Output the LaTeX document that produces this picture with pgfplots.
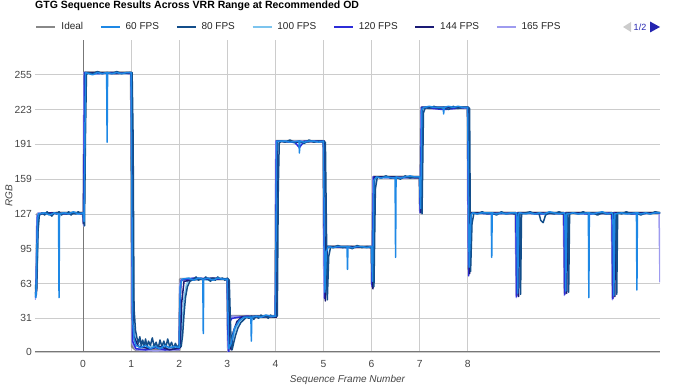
\documentclass[border=0pt]{standalone}
\usepackage{pgfplots}
\pgfplotsset{compat=1.18}
\usepackage{fontspec}
\setmainfont{Liberation Sans}
\definecolor{cIdeal}{HTML}{888888}
\definecolor{c60}{HTML}{1E88E5}
\definecolor{c80}{HTML}{134E8A}
\definecolor{c100}{HTML}{7CC4EE}
\definecolor{c120}{HTML}{2C2CD8}
\definecolor{c144}{HTML}{1A1A75}
\definecolor{c165}{HTML}{9E9BEF}
\definecolor{gridc}{HTML}{CCCCCC}
\definecolor{basec}{HTML}{777777}
\definecolor{tickc}{HTML}{444444}
\definecolor{navblue}{HTML}{2424B0}
\begin{document}
\begin{tikzpicture}
\path[use as bounding box] (-35pt,-38pt) rectangle (640pt,352pt);
\begin{axis}[
  scale only axis, width=625pt, height=312pt,
  xmin=-1, xmax=12, ymin=0, ymax=287,
  axis line style={draw=none}, tick style={draw=none},
  xtick={0,1,2,3,4,5,6,7,8},
  ytick={0,31,63,95,127,159,191,223,255},
  grid=major, major grid style={color=gridc, line width=0.8pt},
  /pgf/number format/assume math mode=true,
  ticklabel style={font=\fontsize{10.3}{12}\selectfont, text=tickc},
  xticklabel style={anchor=center, yshift=-12pt},
  yticklabel style={anchor=east, inner sep=0pt, xshift=-3pt},
  xlabel={Sequence Frame Number},
  xlabel style={font=\fontsize{10}{12}\selectfont\itshape, text=tickc, at={(axis description cs:0.5,-0.0897)}, anchor=center},
  ylabel={RGB},
  ylabel style={font=\fontsize{10}{12}\selectfont\itshape, text=tickc, at={(axis description cs:-0.0416,0.5)}, anchor=center},
  title={GTG Sequence Results Across VRR Range at Recommended OD},
  title style={font=\fontsize{10.5}{12}\selectfont\bfseries, at={(axis description cs:0,1.0897)}, anchor=west, inner sep=0pt},
  legend style={at={(axis description cs:0,1.0417)}, anchor=west, draw=none, fill=none,
    font=\fontsize{10}{12}\selectfont, text=black!85, inner sep=0pt, outer sep=0pt,
    nodes={inner sep=0pt},
    /tikz/every odd column/.append style={column sep=5pt},
    /tikz/every even column/.append style={column sep=17pt}},
  legend columns=-1, legend cell align=left,
  legend image code/.code={\draw[#1] (0pt,0pt) -- (19pt,0pt);},
  every axis plot/.append style={line width=1.5pt, line join=round},
]
\draw[color=basec, line width=1pt] (axis cs:-1,0) -- (axis cs:12,0);
\draw[color=basec, line width=1pt] (axis cs:0,0) -- (axis cs:0,287);

\addlegendimage{color=cIdeal, line width=2.5pt}
\addlegendentry{Ideal}
\addlegendimage{color=c60, line width=1.5pt}
\addlegendentry{60 FPS}
\addlegendimage{color=c80, line width=1.5pt}
\addlegendentry{80 FPS}
\addlegendimage{color=c100, line width=1.5pt}
\addlegendentry{100 FPS}
\addlegendimage{color=c120, line width=1.5pt}
\addlegendentry{120 FPS}
\addlegendimage{color=c144, line width=1.5pt}
\addlegendentry{144 FPS}
\addlegendimage{color=c165, line width=1.5pt}
\addlegendentry{165 FPS}

\addplot[forget plot, color=cIdeal, line width=2.5pt] coordinates {
(-1,52) (-0.97,60) (-0.95,127) (-0.5,128) (0,128) (0.01,118) (0.03,257) (1,257) (1.02,5) (1.1,2) (2,1) (2.02,67) (3,67) (3.02,2) (3.06,33) (4,33) (4.02,194) (5,194) (5.02,50) (5.06,97) (6,97) (6.01,62) (6.04,161) (7,161) (7.01,130) (7.04,225) (8,225) (8.02,76) (8.06,128) (9,128) (9.02,52) (9.04,128) (10,128) (10.02,54) (10.04,128) (11,128) (11.02,50) (11.04,128) (12,128)
};

\addplot[forget plot, color=c165] coordinates {
(-1,48) (-0.98,55) (-0.96,125) (-0.93,128) (-0.6,127) (-0.3,128) (0.0,127) (0.01,116) (0.02,257) (0.5,256) (1.0,257) (1.01,150) (1.02,8) (1.1,2) (1.5,1) (2.0,2) (2.01,60) (2.03,67) (2.5,68) (3.0,67) (3.01,5) (3.02,0) (3.04,30) (3.1,33) (3.5,32) (4.0,33) (4.01,194) (4.5,194) (5.0,193) (5.01,50) (5.04,97) (5.5,97) (6.0,97) (6.01,61) (6.03,161) (6.5,161) (7.0,160) (7.01,130) (7.03,225) (7.5,225) (8.0,224) (8.01,80) (8.04,128) (8.5,128) (9.0,127) (9.01,50) (9.03,128) (9.5,128) (10.0,127) (10.01,52) (10.03,128) (10.5,128) (11.0,127) (11.01,48) (11.03,128) (11.5,128) (11.98,128) (12.0,64)
};

\addplot[forget plot, color=c100] coordinates {
(-1,58) (-0.96,60) (-0.93,120) (-0.9,127) (-0.7,128) (-0.5,127) (-0.3,128) (-0.1,127) (0.0,128) (0.02,120) (0.05,257) (0.3,256) (0.6,257) (0.9,256) (1.0,257) (1.02,240) (1.05,25) (1.1,8) (1.3,4) (1.5,6) (1.7,3) (1.9,5) (2.03,4) (2.06,25) (2.1,50) (2.15,62) (2.2,67) (2.4,68) (2.6,66) (2.8,68) (3.02,67) (3.05,20) (3.08,3) (3.12,12) (3.18,22) (3.25,28) (3.35,32) (3.6,33) (3.8,32) (4.02,33) (4.05,194) (4.3,194) (4.5,190) (4.7,194) (5.02,194) (5.05,52) (5.09,97) (5.5,96) (6.02,97) (6.04,62) (6.07,161) (6.5,160) (7.02,161) (7.04,129) (7.07,225) (7.5,224) (8.02,225) (8.05,77) (8.08,128) (8.5,127) (9.03,128) (9.05,55) (9.07,128) (9.5,127) (10.03,128) (10.05,57) (10.07,128) (10.5,127) (11.03,128) (11.05,55) (11.07,128) (11.5,127) (12.0,128)
};

\addplot[forget plot, color=c120] coordinates {
(-1,50) (-0.98,52) (-0.95,124) (-0.92,127) (-0.7,128) (-0.4,127) (-0.2,128) (0.0,127) (0.01,118) (0.03,257) (0.3,256) (0.6,257) (1.0,256) (1.01,200) (1.03,10) (1.1,3) (1.3,2) (1.5,4) (1.7,2) (2.0,3) (2.01,40) (2.04,66) (2.3,68) (2.6,67) (3.0,67) (3.01,20) (3.03,0) (3.05,28) (3.1,31) (3.4,33) (3.7,32) (4.0,33) (4.02,194) (4.4,193) (4.5,188) (4.6,194) (5.0,194) (5.01,120) (5.03,49) (5.06,97) (5.5,96) (6.0,97) (6.01,60) (6.04,161) (6.5,160) (7.0,161) (7.01,128) (7.04,225) (7.5,223) (8.0,225) (8.02,70) (8.05,128) (8.5,127) (9.0,128) (9.02,51) (9.04,128) (9.5,127) (10.0,128) (10.02,53) (10.04,128) (10.5,127) (11.0,128) (11.02,49) (11.04,128) (11.5,127) (12.0,128)
};

\addplot[forget plot, color=c144] coordinates {
(-1,55) (-0.97,53) (-0.94,122) (-0.91,127) (-0.6,128) (-0.3,127) (0.0,128) (0.02,118) (0.05,257) (0.3,257) (0.7,256) (1.0,257) (1.02,220) (1.05,15) (1.15,5) (1.4,3) (1.6,5) (1.8,2) (2.02,4) (2.05,45) (2.1,65) (2.4,67) (2.7,68) (3.02,67) (3.05,8) (3.08,2) (3.12,18) (3.2,28) (3.3,32) (3.6,33) (4.02,32) (4.04,194) (4.5,193) (5.02,194) (5.04,47) (5.08,97) (5.5,97) (6.02,96) (6.03,58) (6.06,161) (6.5,161) (7.02,160) (7.03,128) (7.06,225) (7.5,225) (8.02,225) (8.04,72) (8.07,128) (8.5,128) (9.04,127) (9.06,51) (9.08,128) (9.5,128) (10.04,127) (10.06,54) (10.08,128) (10.5,128) (11.04,127) (11.06,51) (11.08,128) (11.5,128) (12.0,128)
};

\addplot[forget plot, color=c80] coordinates {
(-1,62) (-0.97,56) (-0.94,110) (-0.91,126) (-0.85,128) (-0.8,126) (-0.75,129) (-0.7,127) (-0.65,125) (-0.6,128) (-0.55,127) (-0.5,129) (-0.45,126) (-0.4,128) (-0.35,127) (-0.3,129) (-0.25,126) (-0.2,128) (-0.15,127) (-0.1,129) (-0.05,127) (0.0,128) (0.03,116) (0.05,200) (0.07,255) (0.1,257) (0.2,256) (0.3,258) (0.4,256) (0.5,257) (0.6,256) (0.7,258) (0.8,256) (0.9,257) (1.02,257) (1.04,200) (1.06,40) (1.09,20) (1.12,13) (1.15,8) (1.18,14) (1.21,6) (1.24,11) (1.27,5) (1.3,12) (1.33,4) (1.36,10) (1.4,6) (1.44,13) (1.48,5) (1.52,9) (1.56,3) (1.6,11) (1.64,5) (1.68,10) (1.72,4) (1.76,12) (1.8,5) (1.84,9) (1.88,3) (1.92,8) (1.96,4) (2.0,7) (2.04,5) (2.07,15) (2.1,35) (2.13,50) (2.17,60) (2.22,65) (2.3,67) (2.35,69) (2.4,66) (2.45,68) (2.5,66) (2.55,69) (2.6,67) (2.65,65) (2.7,68) (2.75,66) (2.8,69) (2.85,67) (2.9,68) (2.95,66) (3.0,68) (3.04,66) (3.07,20) (3.1,2) (3.13,8) (3.17,15) (3.22,22) (3.28,27) (3.35,30) (3.4,32) (3.45,31) (3.5,33) (3.55,30) (3.6,33) (3.65,31) (3.7,34) (3.75,32) (3.8,33) (3.85,31) (3.9,34) (3.95,32) (4.0,33) (4.04,33) (4.06,150) (4.08,192) (4.12,194) (4.2,193) (4.3,195) (4.4,193) (4.5,194) (4.6,192) (4.7,195) (4.8,193) (4.9,194) (5.0,193) (5.04,193) (5.06,120) (5.08,48) (5.11,88) (5.15,97) (5.2,96) (5.3,98) (5.4,96) (5.5,97) (5.6,95) (5.7,98) (5.8,96) (5.9,97) (6.0,96) (6.03,96) (6.05,60) (6.08,150) (6.12,161) (6.2,160) (6.3,162) (6.4,160) (6.5,161) (6.6,159) (6.7,162) (6.8,160) (6.9,161) (7.0,161) (7.03,160) (7.05,127) (7.08,220) (7.12,225) (7.2,224) (7.3,226) (7.4,224) (7.5,225) (7.6,223) (7.7,226) (7.8,224) (7.9,225) (8.0,225) (8.04,224) (8.06,74) (8.09,118) (8.13,128) (8.2,127) (8.3,129) (8.4,127) (8.5,128) (8.6,126) (8.7,129) (8.8,127) (8.9,128) (9.0,127) (9.08,128) (9.1,53) (9.12,127) (9.2,128) (9.3,129) (9.4,127) (9.48,128) (9.52,121) (9.57,119) (9.62,126) (9.7,128) (9.8,127) (9.9,129) (10.0,127) (10.08,128) (10.1,55) (10.12,127) (10.2,128) (10.3,127) (10.4,129) (10.5,127) (10.6,128) (10.7,126) (10.8,128) (10.9,127) (11.0,128) (11.08,127) (11.1,53) (11.12,128) (11.2,127) (11.3,129) (11.4,127) (11.5,128) (11.6,126) (11.7,128) (11.8,127) (11.9,129) (12.0,128)
};

\addplot[forget plot, color=c60] coordinates {
(-1,55) (-0.98,50) (-0.95,120) (-0.93,127) (-0.8,128) (-0.7,126) (-0.6,128) (-0.51,127) (-0.5,50) (-0.49,127) (-0.4,128) (-0.3,127) (-0.2,129) (-0.1,127) (0,128) (0.02,120) (0.05,257) (0.2,255) (0.3,257) (0.4,256) (0.49,257) (0.5,193) (0.51,257) (0.6,256) (0.7,257) (0.8,256) (0.9,257) (1.0,257) (1.03,30) (1.06,12) (1.1,6) (1.2,4) (1.3,6) (1.4,3) (1.5,5) (1.6,3) (1.7,6) (1.8,4) (1.9,5) (2.0,4) (2.02,60) (2.06,67) (2.2,68) (2.3,66) (2.4,68) (2.49,67) (2.5,17) (2.51,67) (2.6,68) (2.7,66) (2.8,68) (2.9,67) (3.0,67) (3.03,3) (3.08,8) (3.15,22) (3.25,29) (3.35,32) (3.49,32) (3.5,10) (3.51,32) (3.6,33) (3.7,32) (3.8,34) (3.9,33) (4.0,33) (4.03,194) (4.2,194) (4.3,193) (4.49,194) (4.5,183) (4.51,194) (4.6,193) (4.7,194) (4.8,194) (4.9,193) (5.0,194) (5.03,55) (5.06,92) (5.1,97) (5.2,96) (5.3,97) (5.49,97) (5.5,76) (5.51,97) (5.6,96) (5.7,97) (5.8,97) (5.9,96) (6.0,97) (6.02,65) (6.05,158) (6.1,161) (6.2,160) (6.3,161) (6.49,160) (6.5,87) (6.51,161) (6.6,160) (6.7,161) (6.8,162) (6.9,161) (7.0,161) (7.02,132) (7.05,224) (7.1,225) (7.2,226) (7.3,225) (7.49,225) (7.5,219) (7.51,225) (7.6,226) (7.7,225) (7.8,226) (7.9,225) (8.0,225) (8.03,78) (8.07,126) (8.1,128) (8.2,127) (8.3,128) (8.49,128) (8.5,87) (8.51,128) (8.6,127) (8.7,128) (8.8,127) (8.9,128) (9.0,128) (9.02,126) (9.04,54) (9.06,127) (9.08,128) (9.2,127) (9.3,128) (9.4,127) (9.5,128) (9.6,127) (9.7,129) (9.8,128) (9.9,127) (10.0,128) (10.02,126) (10.04,56) (10.06,127) (10.2,128) (10.3,127) (10.51,128) (10.52,50) (10.53,128) (10.6,127) (10.7,128) (10.8,129) (10.9,127) (11.0,128) (11.02,126) (11.04,52) (11.06,127) (11.2,128) (11.3,127) (11.51,128) (11.52,57) (11.53,128) (11.6,127) (11.7,128) (11.8,127) (11.9,128) (12.0,128)
};
\end{axis}
\fill[color=gridc] (588pt,325pt) -- (596pt,330pt) -- (596pt,320pt) -- cycle;
\node[font=\fontsize{9}{11}\selectfont, text=navblue, inner sep=0pt] at (605pt,325pt) {1/2};
\fill[color=navblue] (625pt,325pt) -- (615pt,330.5pt) -- (615pt,319.5pt) -- cycle;
\end{tikzpicture}
\end{document}
